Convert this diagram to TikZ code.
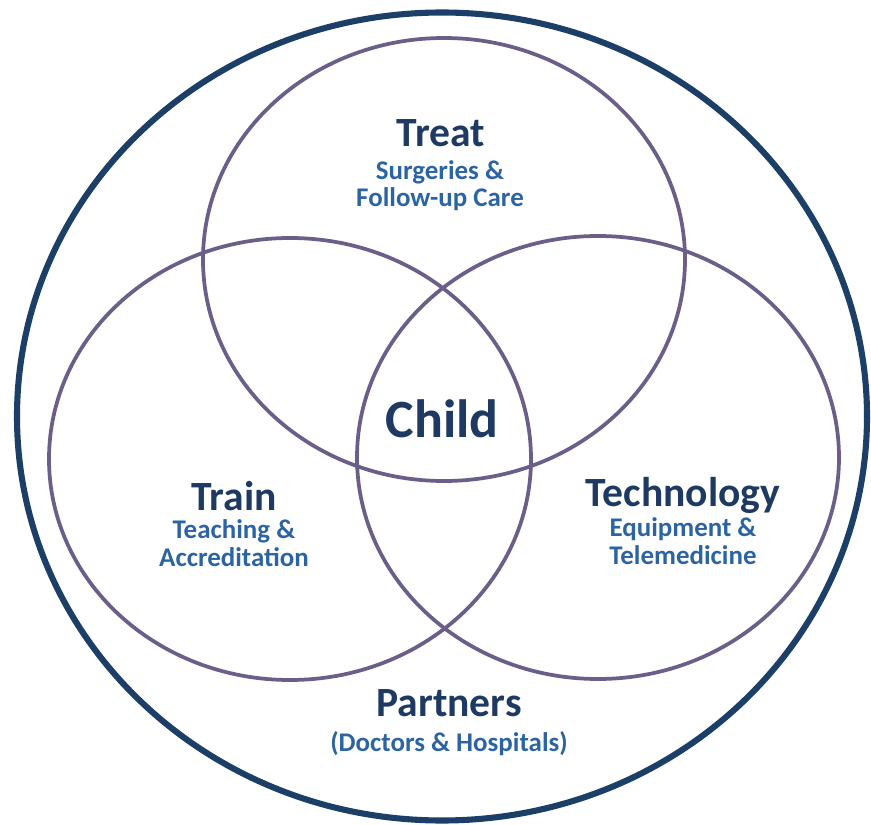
\documentclass[tikz,border=0pt]{standalone}
\usepackage{fontspec}
\setmainfont{Carlito}
\usetikzlibrary{positioning}
\definecolor{ringblue}{HTML}{1B3F66}
\definecolor{setpurple}{HTML}{6B5F8A}
\definecolor{headnavy}{HTML}{1E3A62}
\definecolor{subblue}{HTML}{2C64A3}
\begin{document}
\begin{tikzpicture}[
                x=0.03cm, y=-0.03cm,
                outerring/.style={draw=ringblue, line width=5.2pt},
                setring/.style={draw=setpurple, line width=3.2pt},
                headstyle/.style={font=\bfseries\fontsize{35.5}{38}\selectfont, text=headnavy, inner sep=0pt, anchor=base},
                childstyle/.style={font=\bfseries\fontsize{46}{50}\selectfont, text=headnavy, inner sep=0pt, anchor=base},
                substyle/.style={font=\bfseries\fontsize{23}{23.2}\selectfont, text=subblue, inner sep=0pt, align=center, anchor=base}
            ]
                \useasboundingbox (0,0) rectangle (871,825);

                % Partners ring and the three sets
                \draw[outerring] (442,416.5) ellipse [x radius=425, y radius=404];
                \draw[setring] (444,259.5) ellipse [x radius=241, y radius=221.5];
                \draw[setring] (290,459) ellipse [x radius=241, y radius=221];
                \draw[setring] (598,457.5) ellipse [x radius=241, y radius=221.5];

                % Headings
                \node[headstyle] (treat) at (441,147) {Treat};
                \node[headstyle] (train) at (234,510) {Train};
                \node[headstyle] (technology) at (683,506) {Technology};
                \node[headstyle] (partners) at (449,716) {Partners};
                \node[childstyle] (child) at (442,437) {Child};

                % Descriptions (anchored on their last line)
                \node[substyle] (treatsub) at (440,207) {Surgeries \&\\Follow-up Care};
                \node[substyle] (trainsub) at (234,566) {Teaching \&\\Accreditation};
                \node[substyle] (techsub) at (683,564) {Equipment \&\\Telemedicine};
                \node[substyle] (partnersub) at (449,751) {(Doctors \& Hospitals)};
            \end{tikzpicture}
\end{document}
